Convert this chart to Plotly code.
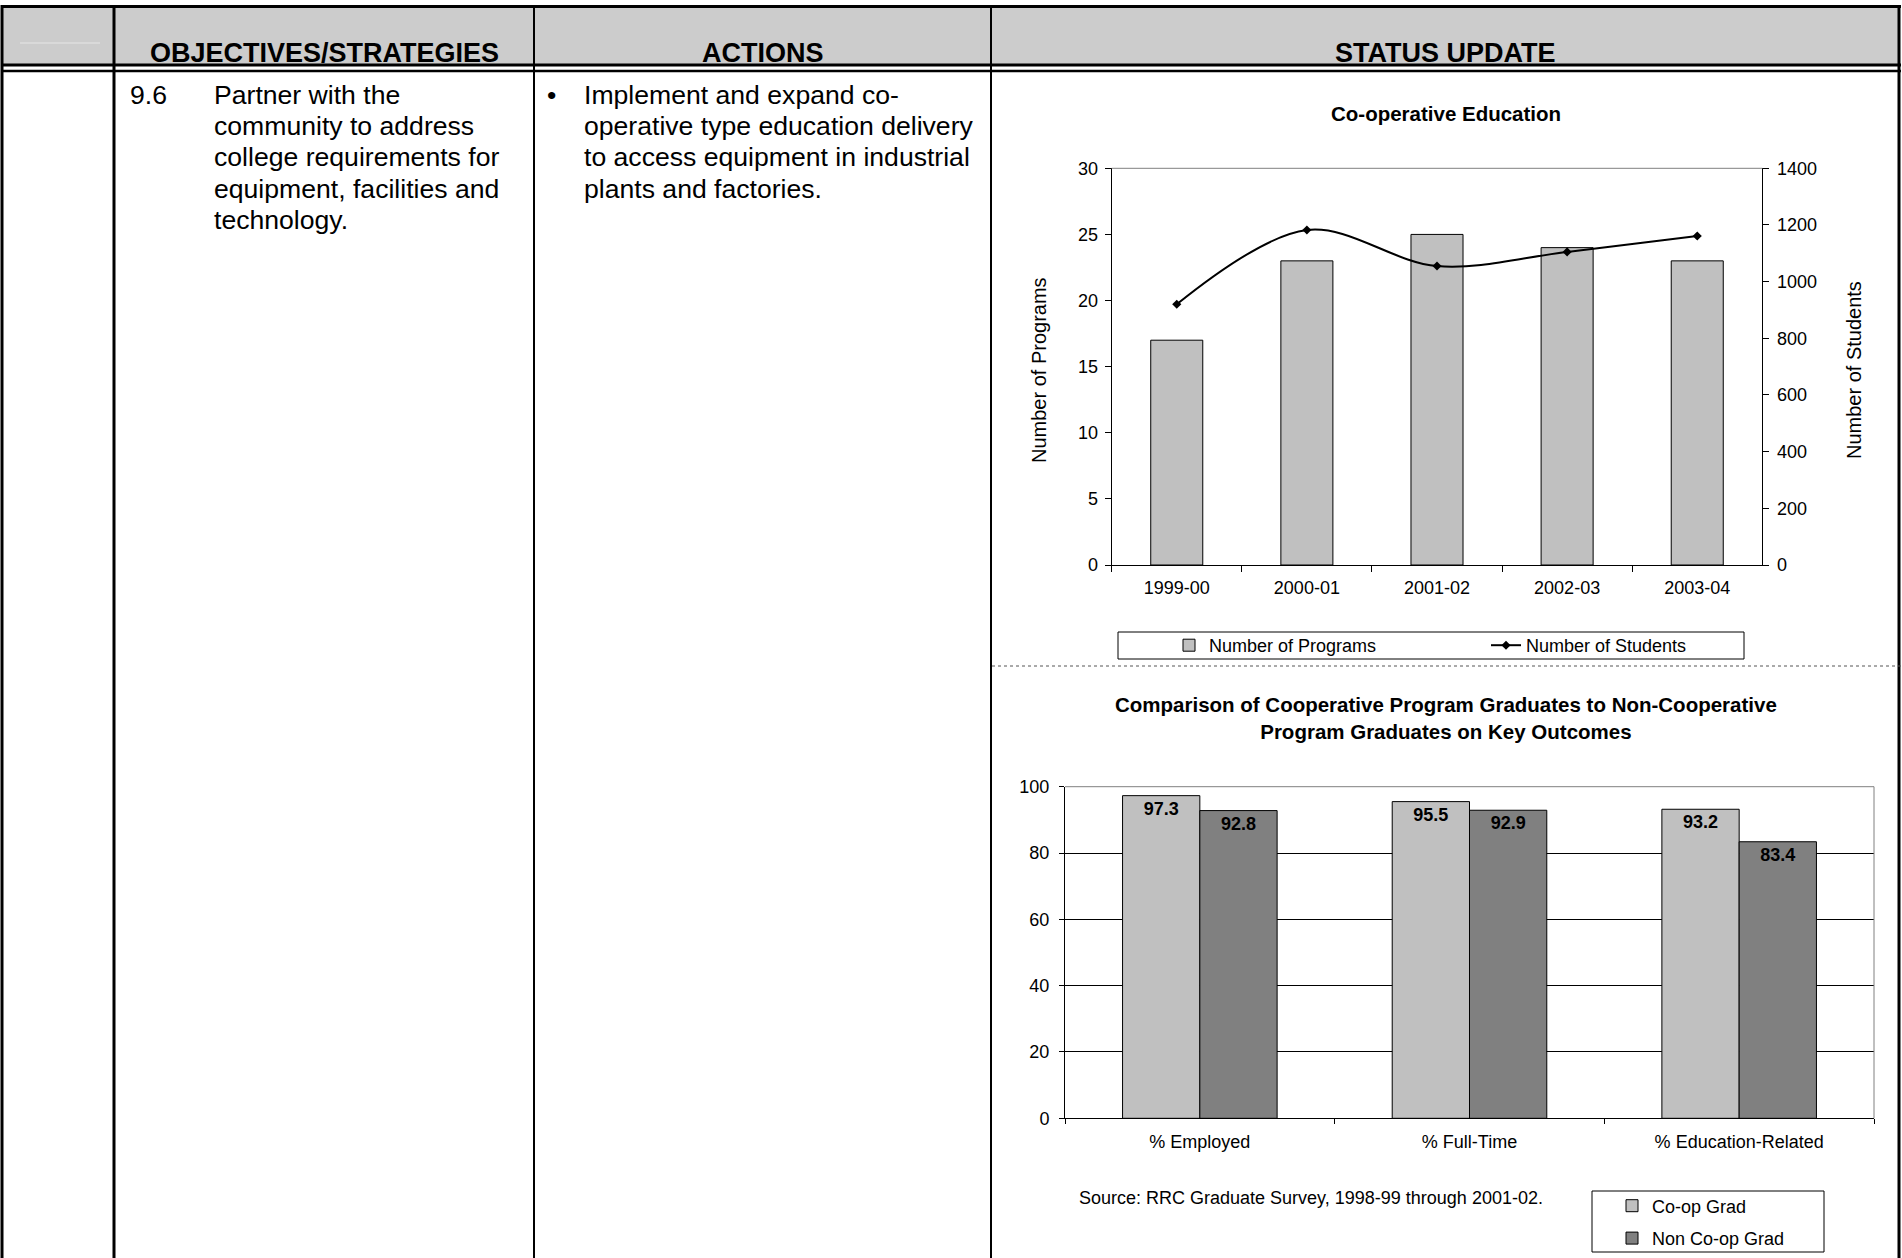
import plotly.graph_objects as go

# ---------------- data ----------------
years = ["1999-00", "2000-01", "2001-02", "2002-03", "2003-04"]
programs = [17, 23, 25, 24, 23]
students = [920, 1182, 1055, 1105, 1161]

outcomes = ["% Employed", "% Full-Time", "% Education-Related"]
coop_grad = [97.3, 95.5, 93.2]
noncoop_grad = [92.8, 92.9, 83.4]

header_labels = ["OBJECTIVES/STRATEGIES", "ACTIONS", "STATUS UPDATE"]
objective_no = "9.6"
objective_lines = ["Partner with the", "community to address", "college requirements for",
                   "equipment, facilities and", "technology."]
action_lines = ["Implement and expand co-", "operative type education delivery",
                "to access equipment in industrial", "plants and factories."]

# ---------------- helpers ----------------
W, H = 1902, 1258
FONT = "Liberation Sans, Arial, sans-serif"


def px(x):
    return x / W


def py(y):
    return 1 - y / H


fig = go.Figure()

# ---------------- chart 1 ----------------
fig.add_trace(go.Bar(
    x=years, y=programs, name="Number of Programs",
    marker=dict(color="#C0C0C0", line=dict(color="black", width=1)),
    width=0.4, xaxis="x", yaxis="y", legend="legend",
))
fig.add_trace(go.Scatter(
    x=years, y=students, name="Number of Students", mode="lines+markers",
    line=dict(color="black", width=2, shape="spline", smoothing=1.0),
    marker=dict(symbol="diamond", size=7, color="black"),
    xaxis="x", yaxis="y2", legend="legend",
))

# ---------------- chart 2 ----------------
bw = 0.2866
fig.add_trace(go.Bar(
    x=outcomes, y=coop_grad, name="Co-op Grad",
    marker=dict(color="#C0C0C0", line=dict(color="black", width=1)),
    width=bw, offset=-bw,
    text=[f"{v:.1f}" for v in coop_grad], textposition="inside", insidetextanchor="end",
    textangle=0,
    insidetextfont=dict(family=FONT, size=18, color="black", weight="bold"),
    xaxis="x2", yaxis="y3", legend="legend2", legendgroup="a",
))
fig.add_trace(go.Bar(
    x=outcomes, y=noncoop_grad, name="Non Co-op Grad",
    marker=dict(color="#808080", line=dict(color="black", width=1)),
    width=bw, offset=0,
    text=[f"{v:.1f}" for v in noncoop_grad], textposition="inside", insidetextanchor="end",
    textangle=0,
    insidetextfont=dict(family=FONT, size=18, color="black", weight="bold"),
    xaxis="x2", yaxis="y3", legend="legend2", legendgroup="b",
))

tickfont = dict(family=FONT, size=18, color="black")

c1x = [px(1111.7), px(1762.3)]
c1y = [py(565), py(168.3)]
c2x = [px(1065), px(1874)]
c2y = [py(1118.3), py(786.7)]

layout = dict(
    width=W, height=H,
    margin=dict(l=0, r=0, t=0, b=0, pad=0, autoexpand=False),
    paper_bgcolor="white", plot_bgcolor="rgba(0,0,0,0)",
    font=dict(family=FONT, color="black"),
    barmode="group",
    showlegend=True,
    xaxis=dict(domain=c1x, anchor="y", type="category", range=[-0.5, 4.5],
               showline=True, linecolor="black", linewidth=1, automargin=False,
               ticks="outside", tickson="boundaries", ticklen=6, tickcolor="black",
               tickfont=tickfont, showgrid=False, zeroline=False, ticklabelstandoff=6),
    yaxis=dict(domain=c1y, anchor="x", range=[0, 30], dtick=5, automargin=False,
               showline=True, linecolor="black", linewidth=1,
               ticks="outside", ticklen=6, tickcolor="black", tickfont=tickfont,
               showgrid=False, zeroline=False, ticklabelstandoff=3),
    yaxis2=dict(overlaying="y", side="right", anchor="x", range=[0, 1400], dtick=200,
                showline=True, linecolor="black", linewidth=1, automargin=False,
                ticks="outside", ticklen=6, tickcolor="black", tickfont=tickfont,
                showgrid=False, zeroline=False, ticklabelstandoff=4),
    yaxis4=dict(overlaying="y", anchor="x", range=[0, 30], dtick=5, automargin=False,
                ticks="inside", ticklen=6, tickcolor="black", showticklabels=False,
                showline=False, showgrid=False, zeroline=False),
    yaxis5=dict(overlaying="y", side="right", anchor="x", range=[0, 1400], dtick=200,
                ticks="inside", ticklen=6, tickcolor="black", showticklabels=False,
                showline=False, showgrid=False, zeroline=False, automargin=False),
    xaxis2=dict(domain=c2x, anchor="y3", type="category", range=[-0.5, 2.5],
                showline=True, linecolor="black", linewidth=1, automargin=False,
                ticks="outside", tickson="boundaries", ticklen=5, tickcolor="black",
                tickfont=tickfont, showgrid=False, zeroline=False, ticklabelstandoff=7),
    yaxis3=dict(domain=c2y, anchor="x2", range=[0, 100], dtick=20, automargin=False,
                showline=True, linecolor="black", linewidth=1,
                ticks="outside", ticklen=5, tickcolor="black", tickfont=tickfont,
                showgrid=True, gridcolor="black", gridwidth=1, zeroline=False,
                ticklabelstandoff=6),
    legend=dict(orientation="h", x=px(1169), y=py(645.5), xanchor="left", yanchor="middle",
                entrywidth=272, font=dict(family=FONT, size=18, color="black"),
                bgcolor="rgba(0,0,0,0)", borderwidth=0),
    legend2=dict(orientation="v", x=px(1612), y=py(1222), xanchor="left", yanchor="middle",
                 font=dict(family=FONT, size=18, color="black"),
                 bgcolor="rgba(0,0,0,0)", borderwidth=0, tracegroupgap=6),
)

shapes = []
# header background
shapes.append(dict(type="rect", xref="paper", yref="paper", x0=px(2), x1=px(1900),
                   y0=py(64), y1=py(6), fillcolor="#CCCCCC", line=dict(width=0), layer="below"))
# faint line in first header cell
shapes.append(dict(type="line", xref="paper", yref="paper", x0=px(20), x1=px(100),
                   y0=py(43), y1=py(43), line=dict(color="#E6E6E6", width=1)))
# horizontal table lines
for yy, lw in [(6.5, 3), (65, 3), (71, 2.5)]:
    shapes.append(dict(type="line", xref="paper", yref="paper", x0=px(1), x1=px(1901),
                       y0=py(yy), y1=py(yy), line=dict(color="black", width=lw)))
# vertical table lines
for xx, lw in [(2, 3), (114, 3), (534, 2), (991, 2), (1899, 3)]:
    shapes.append(dict(type="line", xref="paper", yref="paper", x0=px(xx), x1=px(xx),
                       y0=py(5), y1=py(1258), line=dict(color="black", width=lw)))
# dotted separator between charts
shapes.append(dict(type="line", xref="paper", yref="paper", x0=px(992), x1=px(1902),
                   y0=py(666), y1=py(666), line=dict(color="#555555", width=1, dash="dot")))
# plot-area borders (gray)
shapes.append(dict(type="line", xref="x domain", yref="y domain", x0=0, x1=1, y0=1, y1=1,
                   line=dict(color="#808080", width=1)))
shapes.append(dict(type="line", xref="x2 domain", yref="y3 domain", x0=0, x1=1, y0=1, y1=1,
                   line=dict(color="#808080", width=1)))
shapes.append(dict(type="line", xref="x2 domain", yref="y3 domain", x0=1, x1=1, y0=0, y1=1,
                   line=dict(color="#808080", width=1)))
# legend boxes
shapes.append(dict(type="rect", xref="paper", yref="paper", x0=px(1118), x1=px(1744),
                   y0=py(659), y1=py(632), line=dict(color="black", width=1)))
shapes.append(dict(type="rect", xref="paper", yref="paper", x0=px(1592), x1=px(1824),
                   y0=py(1252), y1=py(1191), line=dict(color="black", width=1)))

ann = []


def text(x, y, s, size, bold=False, xanchor="left", angle=0):
    ann.append(dict(xref="paper", yref="paper", x=px(x), y=py(y), text=s, showarrow=False,
                    xanchor=xanchor, yanchor="middle", textangle=angle,
                    font=dict(family=FONT, size=size, color="black",
                              weight="bold" if bold else "normal")))


# header
for cx, lab in zip([324, 762.5, 1445.5], header_labels):
    text(cx, 53, lab, 27, bold=True, xanchor="center")
# body
y0, dy = 95, 31.2
text(128, y0, objective_no, 26.6)
for i, s in enumerate(objective_lines):
    text(212, y0 + i * dy, s, 26.6)
text(545, y0, "•", 26.6)
for i, s in enumerate(action_lines):
    text(582, y0 + i * dy, s, 26.6)

# chart titles and notes
text(1446, 113, "Co-operative Education", 20.5, bold=True, xanchor="center")
text(1446, 718, "Comparison of Cooperative Program Graduates to Non-Cooperative<br>"
                "Program Graduates on Key Outcomes", 20.5, bold=True, xanchor="center")
text(1039, 370, "Number of Programs", 20, xanchor="center", angle=-90)
text(1854, 370, "Number of Students", 20, xanchor="center", angle=-90)
text(1077, 1198, "Source: RRC Graduate Survey, 1998-99 through 2001-02.", 18)

layout["shapes"] = shapes
layout["annotations"] = ann
fig.update_layout(**layout)
fig.write_html("out.html")
